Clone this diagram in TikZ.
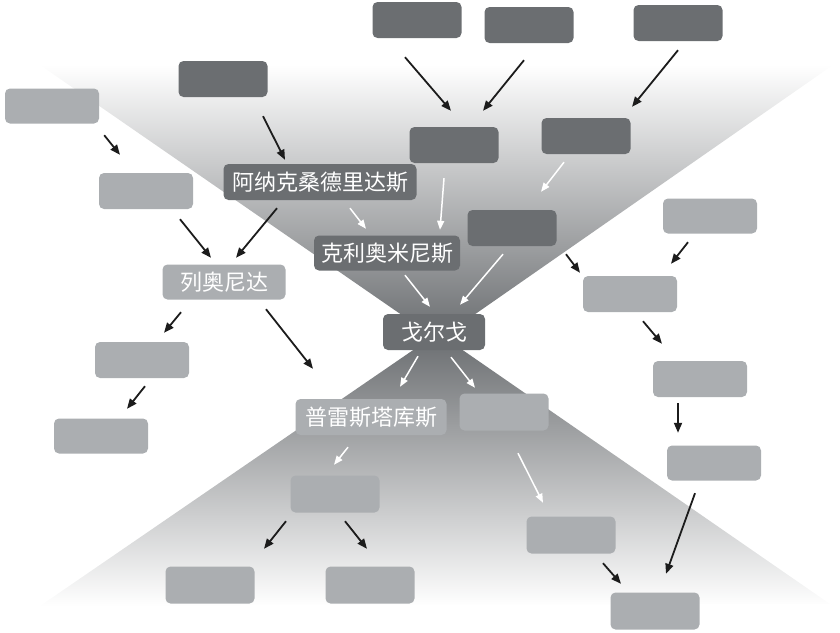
\documentclass[tikz,border=0pt]{standalone}
\usepackage{fontspec}
\newfontfamily\cjkfont{Noto Sans CJK SC}
\usepackage{xcolor}
\definecolor{nodedark}{HTML}{6B6E71}
\definecolor{nodelight}{HTML}{ABAEB1}
\definecolor{arrowblack}{HTML}{1C1C1C}
\definecolor{funnelgray}{HTML}{696C6F}
\definecolor{funnelmid}{HTML}{C2C4C6}
\usepackage{tikz}
\usetikzlibrary{calc,arrows.meta}

\tikzset{
  darkbox/.style={fill=nodedark,rounded corners=5pt,minimum width=89pt,
    minimum height=36pt,inner sep=0pt,text=white},
  lightbox/.style={fill=nodelight,rounded corners=5pt,minimum width=94pt,
    minimum height=35pt,inner sep=0pt,text=white},
  blackarrow/.style={arrowblack,line width=1.8pt,
    -{Triangle[length=10pt,width=8pt]}},
  whitearrow/.style={white,line width=1.5pt,
    -{Triangle[length=9pt,width=7pt]}},
}

\begin{document}
\begin{tikzpicture}[x=1pt,y=-1pt,font=\cjkfont\fontsize{22}{26}\selectfont]
  \useasboundingbox (0,0) rectangle (840,632);
  % funnel above and below gorgo
  \shade[top color=white,middle color=funnelmid,bottom color=funnelgray]
    (40,65) -- (833,65) -- (438,340) -- cycle;
  \shade[top color=funnelgray,middle color=funnelmid,bottom color=white]
    (438,333) -- (830,604) -- (40,606) -- cycle;
  % dark boxes, top half
  \node[darkbox] (d1) at (417,20) {};
  \node[darkbox] (d2) at (529,25) {};
  \node[darkbox] (d3) at (678,23) {};
  \node[darkbox] (d4) at (223,79) {};
  \node[darkbox] (d5) at (454,145) {};
  \node[darkbox] (d6) at (586,136) {};
  \node[darkbox] (d7) at (512,228) {};
  \node[darkbox,minimum width=193pt] (anax) at (320,182) {阿纳克桑德里达斯};
  \node[darkbox,minimum width=146pt,minimum height=35pt] (kleo) at (387,253) {克利奥米尼斯};
  \node[darkbox,minimum width=102pt] (gorgo) at (434,332) {戈尔戈};
  % light boxes
  \node[lightbox] (l1) at (52,106) {};
  \node[lightbox,minimum height=36pt] (l2) at (146,191) {};
  \node[lightbox,minimum width=123pt] (leon) at (224,282) {列奥尼达};
  \node[lightbox,minimum height=36pt] (l3) at (142,360) {};
  \node[lightbox] (l4) at (101,436) {};
  \node[lightbox,minimum width=151pt,minimum height=36pt] (pleis) at (371,417) {普雷斯塔库斯};
  \node[lightbox,minimum width=89pt,minimum height=37pt] (l5) at (504,412) {};
  \node[lightbox,minimum width=89pt,minimum height=37pt] (l6) at (335,494) {};
  \node[lightbox,minimum width=89pt,minimum height=37pt] (l7) at (210,585) {};
  \node[lightbox,minimum width=89pt,minimum height=37pt] (l8) at (370,585) {};
  \node[lightbox,minimum width=89pt,minimum height=37pt] (l9) at (571,535) {};
  \node[lightbox,minimum width=89pt,minimum height=37pt] (l10) at (655,611) {};
  \node[lightbox] (l11) at (710,216) {};
  \node[lightbox,minimum height=36pt] (l12) at (630,294) {};
  \node[lightbox,minimum height=36pt] (l13) at (700,379) {};
  \node[lightbox] (l14) at (714,463) {};
  % black arrows
  \draw[blackarrow] ($(d1.south)+(-12,19)$) -- ($(d5.north)+(-3,-16)$);
  \draw[blackarrow] ($(d2.south)+(-5,17)$) -- ($(d5.north)+(29,-16)$);
  \draw[blackarrow] ($(d3.south)+(0,9)$) -- ($(d6.north)+(46,-11)$);
  \draw[blackarrow] ($(d4.south)+(40,19)$) -- ($(anax.north)+(-35,-4)$);
  \draw[blackarrow] ($(l1.south east)+(5,11.5)$) -- ($(l2.north)+(-26,-18)$);
  \draw[blackarrow] ($(l2.south)+(34,10)$) -- ($(leon.north)+(-13,-6.5)$);
  \draw[blackarrow] ($(anax.south)+(-43,8)$) -- ($(leon.north)+(12,-6.5)$);
  \draw[blackarrow] ($(leon.south)+(-43,12.5)$) -- ($(l3.north)+(22,-9)$);
  \draw[blackarrow] ($(leon.south)+(42,9.5)$) -- ($(pleis.north)+(-58,-30)$);
  \draw[blackarrow] ($(l3.south)+(3,8)$) -- ($(l4.north)+(26,-9.5)$);
  \draw[blackarrow] ($(l6.south)+(-49,8.5)$) -- ($(l7.north)+(54,-17.5)$);
  \draw[blackarrow] ($(l6.south)+(10,8.5)$) -- ($(l8.north)+(-3,-17.5)$);
  \draw[blackarrow] ($(d7.south)+(54,8)$) -- ($(l12.north)+(-50,-3)$);
  \draw[blackarrow] ($(l11.south)+(-22,8.5)$) -- ($(l12.north)+(41,-12)$);
  \draw[blackarrow] ($(l12.south)+(13,9)$) -- ($(l13.north)+(-38,-17)$);
  \draw[blackarrow] ($(l13.south)+(-22,6)$) -- ($(l14.north)+(-36,-12.5)$);
  \draw[blackarrow] ($(l14.south)+(-19,12.5)$) -- ($(l10.north)+(11,-18.5)$);
  \draw[blackarrow] ($(l9.south)+(32,9.5)$) -- ($(l10.north)+(-34,-8.5)$);
  % white arrows inside the funnel
  \draw[whitearrow] ($(anax.south)+(30,8)$) -- ($(kleo.north)+(-21,-6.5)$);
  \draw[whitearrow] ($(d5.south)+(-10,15)$) -- ($(kleo.north)+(53,-5.5)$);
  \draw[whitearrow] ($(d6.south)+(-22,8)$) -- ($(d7.north)+(29,-18)$);
  \draw[whitearrow] ($(kleo.south)+(18,4.5)$) -- ($(gorgo.north)+(-4,-7)$);
  \draw[whitearrow] ($(d7.south)+(-9,8)$) -- ($(gorgo.north)+(26,-9)$);
  \draw[whitearrow] ($(gorgo.south)+(-16,6)$) -- ($(pleis.north)+(29,-12)$);
  \draw[whitearrow] ($(gorgo.south)+(17,7)$) -- ($(l5.north)+(-29,-5.5)$);
  \draw[whitearrow] ($(pleis.south)+(-23,12)$) -- ($(l6.north)+(-1,-10.5)$);
  \draw[whitearrow] ($(l5.south)+(14,22.5)$) -- ($(l9.north)+(-28,-13.5)$);
\end{tikzpicture}
\end{document}
